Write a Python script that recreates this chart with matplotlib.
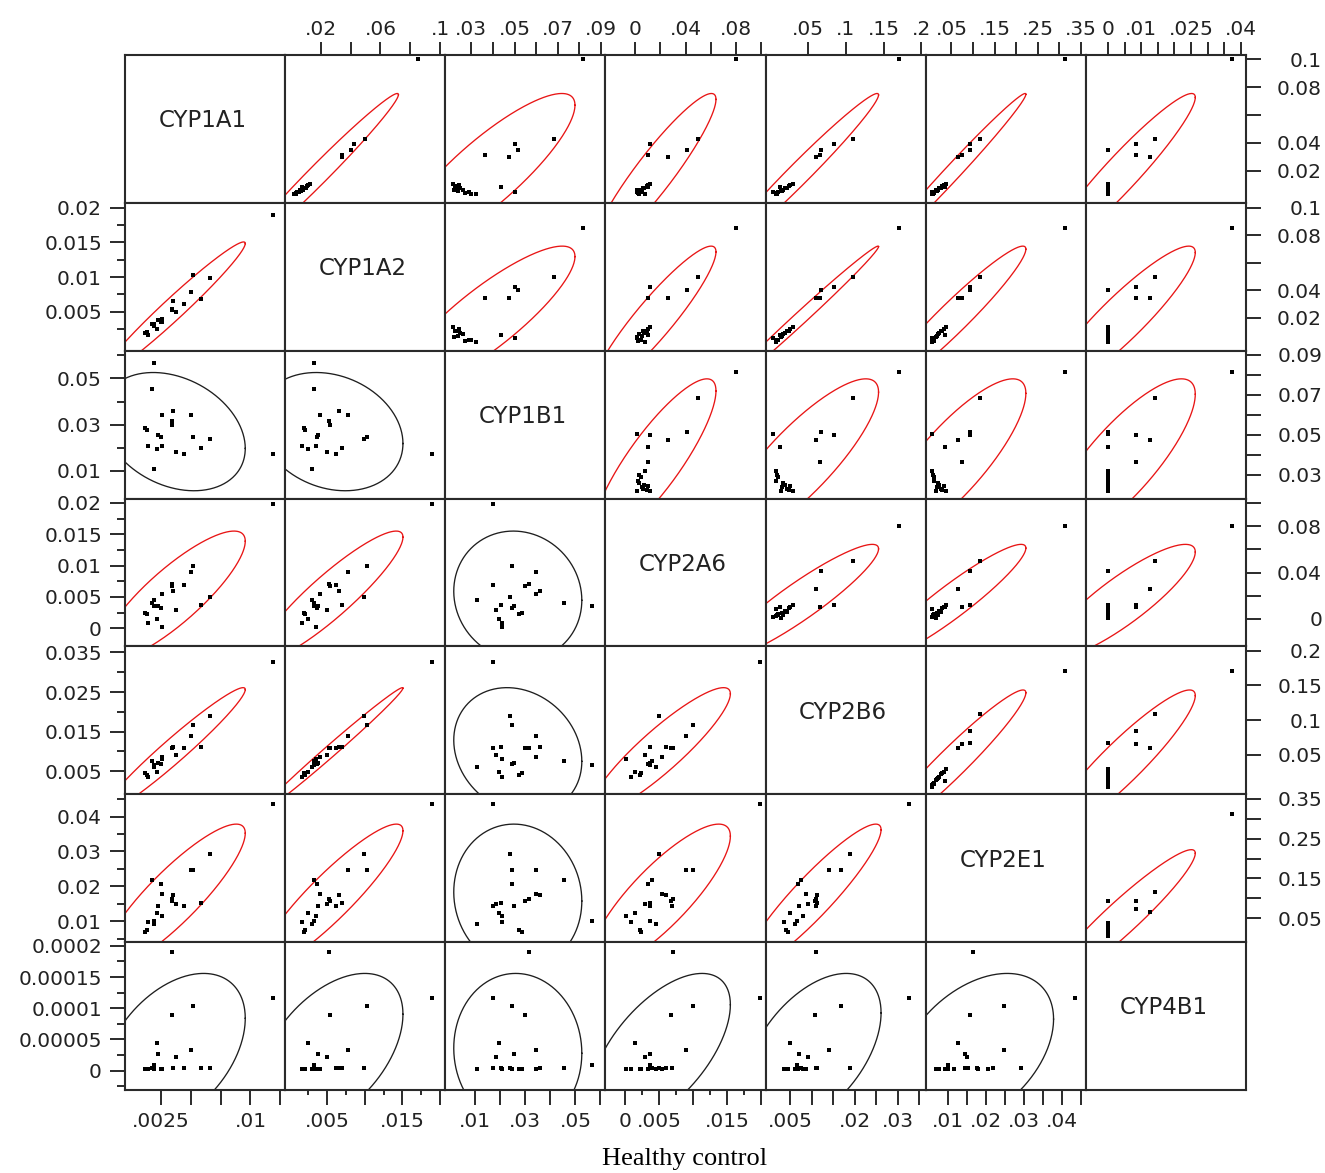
import numpy as np
import matplotlib
matplotlib.use("Agg")
import matplotlib.pyplot as plt

genes = ["CYP1A1", "CYP1A2", "CYP1B1", "CYP2A6", "CYP2B6", "CYP2E1", "CYP4B1"]

# ---- Healthy control samples (lower triangle) ----
hc_cyp1a1 = [0.0012, 0.0013, 0.0014, 0.0018, 0.0019, 0.0019, 0.0022, 0.0023, 0.0025, 0.0026, 0.0026,
             0.0034, 0.0034, 0.0035, 0.0038, 0.0044, 0.0050, 0.0052, 0.0059, 0.0066, 0.0119]
hc_cyp1a2 = [0.0019, 0.0021, 0.0017, 0.0033, 0.0032, 0.0030, 0.0025, 0.0038, 0.0036, 0.0040, 0.0035,
             0.0052, 0.0054, 0.0065, 0.0050, 0.0062, 0.0078, 0.0103, 0.0069, 0.0099, 0.0189]
hc_cyp1b1 = [0.0285, 0.0275, 0.0208, 0.0454, 0.0568, 0.0107, 0.0193, 0.0255, 0.0245, 0.0341, 0.0208,
             0.0315, 0.0300, 0.0360, 0.0182, 0.0171, 0.0341, 0.0247, 0.0201, 0.0237, 0.0172]
hc_cyp2a6 = [0.0024, 0.0022, 0.0009, 0.0040, 0.0036, 0.0045, 0.0015, 0.0036, 0.0033, 0.0055, 0.0002,
             0.0071, 0.0068, 0.0060, 0.0029, 0.0069, 0.0090, 0.0100, 0.0037, 0.0050, 0.0199]
hc_cyp2b6 = [0.0045, 0.0040, 0.0036, 0.0075, 0.0066, 0.0060, 0.0048, 0.0070, 0.0068, 0.0087, 0.0080,
             0.0110, 0.0108, 0.0112, 0.0091, 0.0110, 0.0139, 0.0168, 0.0112, 0.0189, 0.0325]
hc_cyp2e1 = [0.0068, 0.0075, 0.0098, 0.0217, 0.0100, 0.0092, 0.0125, 0.0145, 0.0206, 0.0179, 0.0114,
             0.0165, 0.0158, 0.0175, 0.0150, 0.0145, 0.0248, 0.0246, 0.0153, 0.0292, 0.0436]
hc_cyp4b1 = [0.000002, 0.000003, 0.000002, 0.000004, 0.000009, 0.000003, 0.000044, 0.000026, 0.000003,
             0.000003, 0.000002, 0.000190, 0.000089, 0.000004, 0.000022, 0.000004, 0.000033, 0.000103,
             0.000005, 0.000005, 0.000117]

# ---- Second group samples (upper triangle) ----
g2_cyp1a1 = [0.0106, 0.0100, 0.0080, 0.0065, 0.0060, 0.0045, 0.0033, 0.0040, 0.0075, 0.0055, 0.0090,
             0.0035, 0.0085, 0.0051, 0.0429, 0.0390, 0.0349, 0.0315, 0.0301, 0.0998]
g2_cyp1a2 = [0.0130, 0.0115, 0.0100, 0.0080, 0.0060, 0.0040, 0.0020, 0.0030, 0.0090, 0.0065, 0.0105,
             0.0035, 0.0075, 0.0053, 0.0495, 0.0420, 0.0400, 0.0340, 0.0345, 0.0850]
g2_cyp1b1 = [0.0217, 0.0245, 0.0230, 0.0260, 0.0220, 0.0290, 0.0320, 0.0270, 0.0250, 0.0240, 0.0225,
             0.0300, 0.0438, 0.0504, 0.0682, 0.0500, 0.0515, 0.0365, 0.0475, 0.0815]
g2_cyp2a6 = [0.0120, 0.0100, 0.0060, 0.0030, 0.0010, 0.0045, 0.0080, 0.0020, 0.0070, 0.0050, 0.0090,
             0.0030, 0.0104, 0.0012, 0.0502, 0.0120, 0.0410, 0.0104, 0.0259, 0.0805]
g2_cyp2b6 = [0.0300, 0.0260, 0.0220, 0.0170, 0.0140, 0.0100, 0.0070, 0.0080, 0.0190, 0.0150, 0.0240,
             0.0090, 0.0125, 0.0040, 0.1090, 0.0840, 0.0670, 0.0655, 0.0600, 0.1710]
g2_cyp2e1 = [0.0380, 0.0320, 0.0260, 0.0200, 0.0150, 0.0100, 0.0060, 0.0090, 0.0220, 0.0170, 0.0290,
             0.0080, 0.0340, 0.0054, 0.1170, 0.0940, 0.0940, 0.0740, 0.0660, 0.3120]
g2_cyp4b1 = [0.0, 0.0, 0.0, 0.0, 0.0, 0.0, 0.0, 0.0, 0.0, 0.0, 0.0,
             0.0, 0.0, 0.0, 0.0141, 0.0085, 0.0, 0.0085, 0.0125, 0.0374]

healthy = dict(zip(genes, [hc_cyp1a1, hc_cyp1a2, hc_cyp1b1, hc_cyp2a6, hc_cyp2b6, hc_cyp2e1, hc_cyp4b1]))
group2 = dict(zip(genes, [g2_cyp1a1, g2_cyp1a2, g2_cyp1b1, g2_cyp2a6, g2_cyp2b6, g2_cyp2e1, g2_cyp4b1]))

# ---- axis ranges ----
hc_lims = {"CYP1A1": (-0.0005, 0.0129), "CYP1A2": (-0.0006, 0.0207), "CYP1B1": (-0.002, 0.062),
           "CYP2A6": (-0.0029, 0.0207), "CYP2B6": (-0.0008, 0.0365), "CYP2E1": (0.004, 0.0464),
           "CYP4B1": (-0.000031, 0.000206)}
g2_lims = {"CYP1A1": (-0.003, 0.103), "CYP1A2": (-0.004, 0.1035), "CYP1B1": (0.018, 0.092),
           "CYP2A6": (-0.024, 0.104), "CYP2B6": (-0.0065, 0.206), "CYP2E1": (-0.0095, 0.361),
           "CYP4B1": (-0.0067, 0.0416)}

# ---- bottom axis (healthy, x) ----
hc_x_major = {"CYP1A1": [0.0025, 0.005, 0.0075, 0.01, 0.0125],
              "CYP1A2": [0.005, 0.01, 0.015, 0.02],
              "CYP1B1": [0.01, 0.02, 0.03, 0.04, 0.05, 0.06],
              "CYP2A6": [0.0, 0.005, 0.01, 0.015, 0.02],
              "CYP2B6": [0.005, 0.01, 0.015, 0.02, 0.025, 0.03, 0.035],
              "CYP2E1": [0.01, 0.015, 0.02, 0.025, 0.03, 0.035, 0.04, 0.045]}
hc_x_labels = {"CYP1A1": [".0025", "", "", ".01", ""],
               "CYP1A2": [".005", "", ".015", ""],
               "CYP1B1": [".01", "", ".03", "", ".05", ""],
               "CYP2A6": ["0", ".005", "", ".015", ""],
               "CYP2B6": [".005", "", "", ".02", "", ".03", ""],
               "CYP2E1": [".01", "", ".02", "", ".03", "", ".04", ""]}
hc_x_minor = {"CYP1A2": [0.0025, 0.0075, 0.0125, 0.0175],
              "CYP2A6": [0.0025, 0.0075, 0.0125, 0.0175]}

# ---- left axis (healthy, y) ----
hc_y_major = {"CYP1A2": [0.005, 0.01, 0.015, 0.02],
              "CYP1B1": [0.01, 0.03, 0.05],
              "CYP2A6": [0.0, 0.005, 0.01, 0.015, 0.02],
              "CYP2B6": [0.005, 0.015, 0.025, 0.035],
              "CYP2E1": [0.01, 0.02, 0.03, 0.04],
              "CYP4B1": [0.0, 0.00005, 0.0001, 0.00015, 0.0002]}
hc_y_labels = {"CYP1A2": ["0.005", "0.01", "0.015", "0.02"],
               "CYP1B1": ["0.01", "0.03", "0.05"],
               "CYP2A6": ["0", "0.005", "0.01", "0.015", "0.02"],
               "CYP2B6": ["0.005", "0.015", "0.025", "0.035"],
               "CYP2E1": ["0.01", "0.02", "0.03", "0.04"],
               "CYP4B1": ["0", "0.00005", "0.0001", "0.00015", "0.0002"]}
hc_y_minor = {"CYP1A2": [0.0025, 0.0075, 0.0125, 0.0175],
              "CYP1B1": [0.02, 0.04, 0.06],
              "CYP2A6": [0.0025, 0.0075, 0.0125, 0.0175],
              "CYP2B6": [0.01, 0.02, 0.03],
              "CYP2E1": [0.005, 0.015, 0.025, 0.035, 0.045],
              "CYP4B1": [-0.000025, 0.000025, 0.000075, 0.000125, 0.000175]}

# ---- top axis (second group, x) ----
g2_x_ticks = {"CYP1A2": [0.02, 0.04, 0.06, 0.08, 0.1],
              "CYP1B1": [0.03, 0.04, 0.05, 0.06, 0.07, 0.08, 0.09],
              "CYP2A6": [0.0, 0.02, 0.04, 0.06, 0.08, 0.1],
              "CYP2B6": [0.05, 0.1, 0.15, 0.2],
              "CYP2E1": [0.05, 0.1, 0.15, 0.2, 0.25, 0.3, 0.35],
              "CYP4B1": [0.0, 0.005, 0.01, 0.015, 0.02, 0.025, 0.03, 0.035, 0.04]}
g2_x_labels = {"CYP1A2": [".02", "", ".06", "", ".1"],
               "CYP1B1": [".03", "", ".05", "", ".07", "", ".09"],
               "CYP2A6": ["0", "", ".04", "", ".08", ""],
               "CYP2B6": [".05", ".1", ".15", ".2"],
               "CYP2E1": [".05", "", ".15", "", ".25", "", ".35"],
               "CYP4B1": ["0", "", ".01", "", "", ".025", "", "", ".04"]}

# ---- right axis (second group, y) ----
g2_y_ticks = {"CYP1A1": [0.02, 0.04, 0.06, 0.08, 0.1],
              "CYP1A2": [0.02, 0.04, 0.06, 0.08, 0.1],
              "CYP1B1": [0.03, 0.04, 0.05, 0.06, 0.07, 0.08, 0.09],
              "CYP2A6": [0.0, 0.02, 0.04, 0.06, 0.08, 0.1],
              "CYP2B6": [0.05, 0.1, 0.15, 0.2],
              "CYP2E1": [0.05, 0.1, 0.15, 0.2, 0.25, 0.3, 0.35]}
g2_y_labels = {"CYP1A1": ["0.02", "0.04", "", "0.08", "0.1"],
               "CYP1A2": ["0.02", "0.04", "", "0.08", "0.1"],
               "CYP1B1": ["0.03", "", "0.05", "", "0.07", "", "0.09"],
               "CYP2A6": ["0", "", "0.04", "", "0.08", ""],
               "CYP2B6": ["0.05", "0.1", "0.15", "0.2"],
               "CYP2E1": ["0.05", "", "0.15", "", "0.25", "", "0.35"]}

# ---- styling ----
W, H = 1325, 1173
PX = 0.72  # points per pixel at 100 dpi
x_edges = np.linspace(125, 1246, 8)
y_edges = np.linspace(55, 1090, 8)
RED = "#e81515"
DARK = "#1e1e1e"
TICK_FONT = dict(family="DejaVu Sans", size=14.5, color="#222222")
TICK_W = 1.4

plt.rcParams["font.family"] = ["DejaVu Sans"]
fig = plt.figure(figsize=(W / 100, H / 100), dpi=100, facecolor="white")


def density_ellipse(x, y, level=0.95, n=400):
    x = np.asarray(x, float)
    y = np.asarray(y, float)
    cov = np.cov(x, y)
    chol = np.linalg.cholesky(cov)
    k = np.sqrt(-2.0 * np.log(1.0 - level))
    t = np.linspace(0, 2 * np.pi, n)
    pts = chol @ np.vstack([np.cos(t), np.sin(t)]) * k
    return x.mean() + pts[0], y.mean() + pts[1]


def style_labels(labels):
    for lab in labels:
        lab.set_fontfamily(TICK_FONT["family"])
        lab.set_fontsize(TICK_FONT["size"])
        lab.set_color(TICK_FONT["color"])


for r in range(7):
    for c in range(7):
        x0, x1 = x_edges[c], x_edges[c + 1]
        y0, y1 = y_edges[r], y_edges[r + 1]
        ax = fig.add_axes([x0 / W, 1 - y1 / H, (x1 - x0) / W, (y1 - y0) / H])
        ax.set_facecolor("white")
        for sp in ax.spines.values():
            sp.set_linewidth(1.5)
            sp.set_color("#2a2a2a")
        ax.set_xticks([])
        ax.set_yticks([])

        if r == c:
            ax.text(0.485, 0.555, genes[r], transform=ax.transAxes, ha="center", va="center",
                    fontsize=16.5, color="#222222", family="DejaVu Sans")
            ax.set_xlim(0, 1)
            ax.set_ylim(0, 1)
            continue

        lower = r > c
        data = healthy if lower else group2
        lims = hc_lims if lower else g2_lims
        gx, gy = genes[c], genes[r]
        xv, yv = data[gx], data[gy]
        ax.set_xlim(*lims[gx])
        ax.set_ylim(*lims[gy])

        ex, ey = density_ellipse(xv, yv)
        rho = np.corrcoef(xv, yv)[0, 1]
        ax.plot(ex, ey, color=RED if rho > 0.6 else DARK, lw=0.95, zorder=2)
        ax.plot(xv, yv, linestyle="none", marker="s", ms=3.3, mew=0, color="black", zorder=3)

        # healthy-control scales on the bottom and left edges
        if lower and r == 6:
            ax.tick_params(axis="x", which="major", bottom=True, labelbottom=True, direction="out",
                           length=15 * PX, width=TICK_W, color="#2a2a2a", pad=5)
            ax.tick_params(axis="x", which="minor", bottom=True, direction="out",
                           length=5 * PX, width=TICK_W, color="#2a2a2a")
            ax.set_xticks(hc_x_major[gx], hc_x_labels[gx])
            ax.set_xticks(hc_x_minor.get(gx, []), minor=True)
            style_labels(ax.get_xticklabels())
        if lower and c == 0:
            ax.tick_params(axis="y", which="major", left=True, labelleft=True, direction="out",
                           length=15 * PX, width=TICK_W, color="#2a2a2a", pad=5.8)
            ax.tick_params(axis="y", which="minor", left=True, direction="out",
                           length=8 * PX, width=TICK_W, color="#2a2a2a")
            ax.set_yticks(hc_y_major[gy], hc_y_labels[gy])
            ax.set_yticks(hc_y_minor.get(gy, []), minor=True)
            style_labels(ax.get_yticklabels())

        # second-group scales on the top and right edges
        if (not lower) and r == 0:
            ax.tick_params(axis="x", which="major", top=True, labeltop=True, bottom=False,
                           labelbottom=False, direction="out", length=13 * PX,
                           width=TICK_W, color="#2a2a2a", pad=2.5)
            ax.set_xticks(g2_x_ticks[gx], g2_x_labels[gx])
            style_labels(ax.get_xticklabels())
        if (not lower) and c == 6:
            ax.tick_params(axis="y", which="major", right=True, labelright=True, left=False,
                           labelleft=False, direction="out", length=15 * PX,
                           width=TICK_W, color="#2a2a2a", pad=44)
            ax.set_yticks(g2_y_ticks[gy], g2_y_labels[gy])
            for tk in ax.yaxis.get_major_ticks():
                tk.label2.set_horizontalalignment("right")
            style_labels(ax.get_yticklabels())

fig.text(685 / W, 1 - 1165 / H, "Healthy control", ha="center", va="baseline",
         family="Liberation Serif", fontsize=19, color="black")

fig.savefig("out.png", dpi=100, facecolor="white")
